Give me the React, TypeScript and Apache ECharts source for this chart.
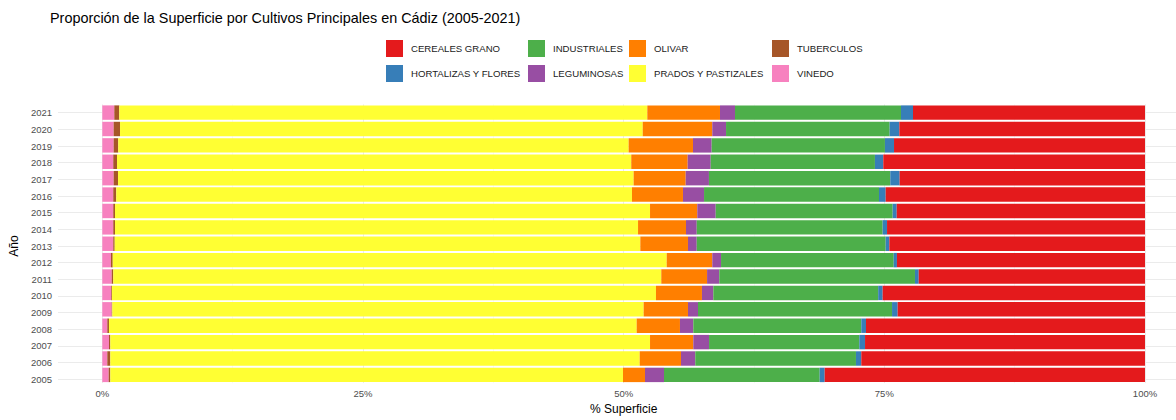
import React, { useEffect, useRef } from "react";
import * as echarts from "echarts";

const years = ["2005", "2006", "2007", "2008", "2009", "2010", "2011", "2012", "2013", "2014", "2015", "2016", "2017", "2018", "2019", "2020", "2021"];

const vinedo = [0.61, 0.48, 0.64, 0.48, 0.9, 0.86, 0.9, 0.83, 1.05, 1.05, 1.05, 1.05, 1.09, 1.05, 1.09, 1.09, 1.15];
const tuberculos = [0.16, 0.29, 0.13, 0.16, 0.06, 0.07, 0.15, 0.17, 0.14, 0.17, 0.17, 0.29, 0.42, 0.36, 0.44, 0.61, 0.48];
const prados = [49.17, 50.77, 51.76, 50.61, 50.96, 52.17, 52.56, 53.13, 50.41, 50.16, 51.31, 49.46, 49.45, 49.32, 48.95, 50.13, 50.64];
const olivar = [2.11, 3.96, 4.15, 4.15, 4.25, 4.41, 4.39, 4.37, 4.57, 4.6, 4.53, 4.89, 4.99, 5.41, 6.17, 6.67, 6.97];
const leguminosas = [1.82, 1.37, 1.51, 1.28, 0.96, 1.09, 1.17, 0.84, 0.84, 1.03, 1.77, 2.02, 2.23, 2.21, 1.79, 1.32, 1.44];
const industriales = [14.93, 15.41, 14.41, 16.11, 18.61, 15.81, 18.77, 16.56, 18.12, 17.83, 16.97, 16.78, 17.39, 15.75, 16.62, 15.69, 15.92];
const hortalizas = [0.48, 0.51, 0.55, 0.45, 0.54, 0.43, 0.36, 0.31, 0.35, 0.42, 0.39, 0.64, 0.9, 0.8, 0.87, 0.93, 1.15];
const cereales = [30.72, 27.21, 26.85, 26.76, 23.72, 25.16, 21.7, 23.79, 24.52, 24.74, 23.81, 24.87, 23.53, 25.1, 24.07, 23.56, 22.25];

const xTickValues = [0, 25, 50, 75, 100];

const seriesDefs = [
  { name: "VINEDO", data: vinedo, color: "#F781BF" },
  { name: "TUBERCULOS", data: tuberculos, color: "#A65628" },
  { name: "PRADOS Y PASTIZALES", data: prados, color: "#FFFF33" },
  { name: "OLIVAR", data: olivar, color: "#FF7F00" },
  { name: "LEGUMINOSAS", data: leguminosas, color: "#984EA3" },
  { name: "INDUSTRIALES", data: industriales, color: "#4DAF4A" },
  { name: "HORTALIZAS Y FLORES", data: hortalizas, color: "#377EB8" },
  { name: "CEREALES GRANO", data: cereales, color: "#E41A1C" },
];

const legendColumns = [
  ["CEREALES GRANO", "HORTALIZAS Y FLORES"],
  ["INDUSTRIALES", "LEGUMINOSAS"],
  ["OLIVAR", "PRADOS Y PASTIZALES"],
  ["TUBERCULOS", "VINEDO"],
];
const legendLefts = [386, 528, 629, 772];

const FONT = "'Liberation Sans', Arial, Helvetica, sans-serif";

export default function App() {
  const ref = useRef<HTMLDivElement>(null);

  useEffect(() => {
    if (!ref.current) return;
    const chart = echarts.init(ref.current, null, { renderer: "svg" });
    const gridTop = 104.4;
    const gridBottom = 32.4;
    const option: any = {
      animation: false,
      backgroundColor: "#ffffff",
      textStyle: { fontFamily: FONT },
      title: {
        text: "Proporción de la Superficie por Cultivos Principales en Cádiz (2005-2021)",
        left: 50,
        top: 11,
        padding: 0,
        textStyle: { fontSize: 14.4, fontWeight: "normal", color: "#000000", fontFamily: FONT },
      },
      legend: legendColumns.map((col, i) => ({
        data: col,
        orient: "vertical",
        left: legendLefts[i],
        top: 40,
        padding: 0,
        itemWidth: 17,
        itemHeight: 17,
        itemGap: 8,
        icon: "rect",
        selectedMode: false,
        textStyle: { fontSize: 9.6, color: "#1a1a1a", fontFamily: FONT, padding: [0, 0, 0, 3] },
      })),
      grid: [
        { left: 102.3, right: 31, top: gridTop, bottom: gridBottom },
        { left: 50, right: 0, top: gridTop, bottom: gridBottom },
      ],
      xAxis: [
        {
          type: "value",
          gridIndex: 0,
          min: xTickValues[0],
          max: xTickValues[xTickValues.length - 1],
          interval: 25,
          axisLine: { show: false },
          axisTick: { show: false },
          axisLabel: { formatter: "{value}%", fontSize: 9.5, color: "#4d4d4d", margin: 5, fontFamily: FONT },
          splitLine: { show: true, lineStyle: { color: "#ebebeb", width: 1 } },
          minorTick: { show: false, splitNumber: 2 },
          minorSplitLine: { show: true, lineStyle: { color: "#f3f3f3", width: 0.6 } },
          name: "% Superficie",
          nameLocation: "middle",
          nameGap: 18,
          nameTextStyle: { fontSize: 12, color: "#000000", fontFamily: FONT },
        },
        {
          type: "value",
          gridIndex: 1,
          min: 0,
          max: 1,
          show: false,
        },
      ],
      yAxis: [
        {
          type: "category",
          gridIndex: 0,
          data: years,
          axisLine: { show: false },
          axisTick: { show: false },
          axisLabel: { show: false },
          splitLine: { show: false },
        },
        {
          type: "category",
          gridIndex: 1,
          data: years,
          axisLine: { show: false },
          axisTick: { show: false },
          axisLabel: { fontSize: 9.5, color: "#4d4d4d", margin: 6, fontFamily: FONT },
          splitLine: { show: true, alignWithLabel: true, lineStyle: { color: "#ebebeb", width: 1 } },
          name: "Año",
          nameLocation: "middle",
          nameRotate: 90,
          nameGap: 29,
          nameTextStyle: { fontSize: 12, color: "#000000", fontFamily: FONT },
        },
      ],
      series: seriesDefs.map((s) => ({
        name: s.name,
        type: "bar",
        stack: "total",
        xAxisIndex: 0,
        yAxisIndex: 0,
        data: s.data,
        barCategoryGap: "12%",
        itemStyle: { color: s.color },
        emphasis: { disabled: true },
      })),
    };
    chart.setOption(option);
    return () => {
      chart.dispose();
    };
  }, []);

  return (
    <div
      ref={ref}
      style={{ position: "absolute", left: 0, top: 0, width: 1176, height: 420 }}
    />
  );
}
